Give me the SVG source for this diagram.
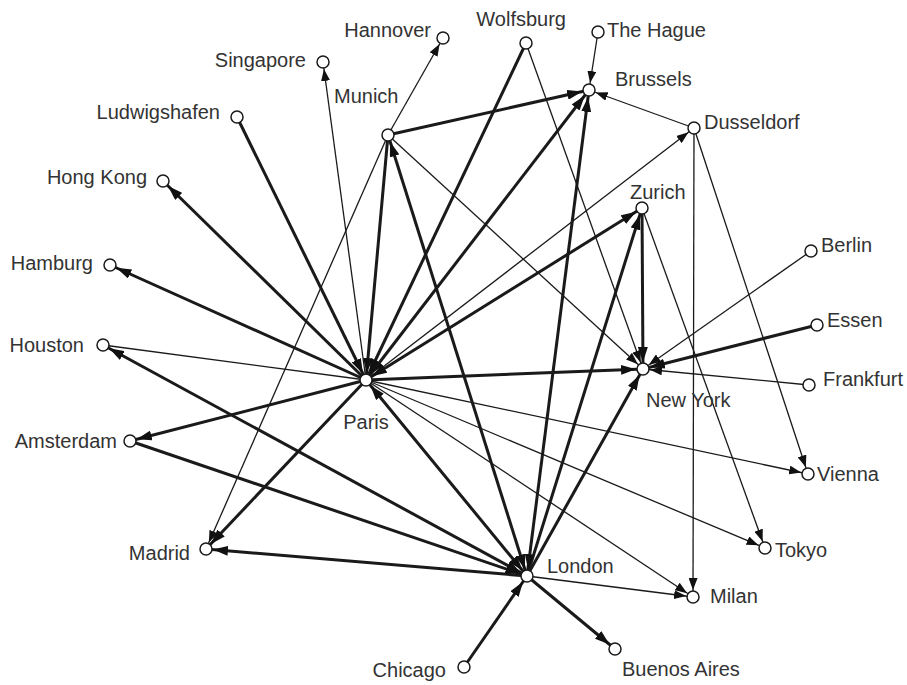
<svg xmlns="http://www.w3.org/2000/svg" width="907" height="685" viewBox="0 0 907 685">
<style>
.e{stroke:#1a1a1a;fill:none;stroke-linecap:butt}
.T{stroke-width:3}
.t{stroke-width:1.3}
.a1{marker-end:url(#hT)}
.a2{marker-end:url(#hT);marker-start:url(#hT)}
.b1{marker-end:url(#ht)}
.n circle{fill:#fff;stroke:#1a1a1a;stroke-width:1.5}
.n text{font-family:"Liberation Sans",Arial,sans-serif;font-size:20px;fill:#333}
.r{text-anchor:end}
.m{text-anchor:middle}
</style>
<defs>
<marker id="hT" viewBox="0 0 22 10" markerWidth="22" markerHeight="10" refX="22" refY="5" orient="auto-start-reverse" markerUnits="userSpaceOnUse"><path d="M0,0 L15,5 L0,10 z" fill="#111"/></marker>
<marker id="ht" viewBox="0 0 19 9" markerWidth="19" markerHeight="9" refX="19" refY="4.5" orient="auto" markerUnits="userSpaceOnUse"><path d="M0,0 L12,4.5 L0,9 z" fill="#111"/></marker>
</defs>
<g id="connectors">
<!-- thin -->
<line class="e t" x1="103" y1="345" x2="366" y2="380"/>
<line class="e t b1" x1="366" y1="380" x2="323" y2="62"/>
<line class="e t b1" x1="366" y1="380" x2="694" y2="128"/>
<line class="e t b1" x1="366" y1="380" x2="808" y2="474"/>
<line class="e t b1" x1="366" y1="380" x2="765" y2="548"/>
<line class="e t b1" x1="366" y1="380" x2="693" y2="597"/>
<line class="e t b1" x1="388" y1="135" x2="443" y2="38"/>
<line class="e t b1" x1="388" y1="135" x2="206" y2="549"/>
<line class="e t b1" x1="388" y1="135" x2="643" y2="369"/>
<line class="e t b1" x1="526" y1="43" x2="643" y2="369"/>
<line class="e t b1" x1="598" y1="32" x2="589" y2="90"/>
<line class="e t b1" x1="694" y1="128" x2="589" y2="90"/>
<line class="e t b1" x1="694" y1="128" x2="693" y2="597"/>
<line class="e t b1" x1="694" y1="128" x2="808" y2="474"/>
<line class="e t b1" x1="642" y1="208" x2="765" y2="548"/>
<line class="e t b1" x1="811" y1="251" x2="643" y2="369"/>
<line class="e t b1" x1="809" y1="385" x2="643" y2="369"/>
<line class="e t b1" x1="527" y1="576" x2="693" y2="597"/>
<!-- thick -->
<line class="e T a1" x1="366" y1="380" x2="163" y2="181"/>
<line class="e T a1" x1="366" y1="380" x2="110" y2="265"/>
<line class="e T a1" x1="366" y1="380" x2="130" y2="441"/>
<line class="e T a1" x1="366" y1="380" x2="206" y2="549"/>
<line class="e T a1" x1="366" y1="380" x2="643" y2="369"/>
<line class="e T a1" x1="237" y1="117" x2="366" y2="380"/>
<line class="e T a1" x1="388" y1="135" x2="366" y2="380"/>
<line class="e T a1" x1="526" y1="43" x2="366" y2="380"/>
<line class="e T a1" x1="388" y1="135" x2="589" y2="90"/>
<line class="e T a1" x1="817" y1="325" x2="643" y2="369"/>
<line class="e T a1" x1="642" y1="208" x2="643" y2="369"/>
<line class="e T a1" x1="527" y1="576" x2="642" y2="208"/>
<line class="e T a1" x1="527" y1="576" x2="643" y2="369"/>
<line class="e T a1" x1="527" y1="576" x2="206" y2="549"/>
<line class="e T a1" x1="527" y1="576" x2="615" y2="649"/>
<line class="e T a1" x1="464" y1="667" x2="527" y2="576"/>
<line class="e T a1" x1="130" y1="441" x2="527" y2="576"/>
<line class="e T a2" x1="366" y1="380" x2="589" y2="90"/>
<line class="e T a2" x1="366" y1="380" x2="642" y2="208"/>
<line class="e T a2" x1="527" y1="576" x2="366" y2="380"/>
<line class="e T a2" x1="527" y1="576" x2="388" y2="135"/>
<line class="e T a2" x1="527" y1="576" x2="103" y2="345"/>
<line class="e T a2" x1="527" y1="576" x2="589" y2="90"/>
</g>
<g id="node-paris" class="n"><circle cx="366" cy="380" r="6"/><text class="m" x="366" y="429">Paris</text></g>
<g id="node-london" class="n"><circle cx="527" cy="576" r="6"/><text x="547" y="573">London</text></g>
<g id="node-newyork" class="n"><circle cx="643" cy="369" r="6"/><text x="646" y="407">New York</text></g>
<g id="node-munich" class="n"><circle cx="388" cy="135" r="6"/><text x="334" y="103">Munich</text></g>
<g id="node-brussels" class="n"><circle cx="589" cy="90" r="6"/><text x="615" y="86">Brussels</text></g>
<g id="node-dusseldorf" class="n"><circle cx="694" cy="128" r="6"/><text x="704" y="129">Dusseldorf</text></g>
<g id="node-zurich" class="n"><circle cx="642" cy="208" r="6"/><text x="630" y="199">Zurich</text></g>
<g id="node-wolfsburg" class="n"><circle cx="526" cy="43" r="6"/><text class="r" x="566" y="26">Wolfsburg</text></g>
<g id="node-thehague" class="n"><circle cx="598" cy="32" r="6"/><text x="607" y="37">The Hague</text></g>
<g id="node-hannover" class="n"><circle cx="443" cy="38" r="6"/><text class="r" x="431" y="37">Hannover</text></g>
<g id="node-singapore" class="n"><circle cx="323" cy="62" r="6"/><text class="r" x="306" y="67">Singapore</text></g>
<g id="node-ludwigshafen" class="n"><circle cx="237" cy="117" r="6"/><text class="r" x="220" y="119">Ludwigshafen</text></g>
<g id="node-hongkong" class="n"><circle cx="163" cy="181" r="6"/><text class="r" x="147" y="184">Hong Kong</text></g>
<g id="node-hamburg" class="n"><circle cx="110" cy="265" r="6"/><text class="r" x="93" y="270">Hamburg</text></g>
<g id="node-houston" class="n"><circle cx="103" cy="345" r="6"/><text class="r" x="84" y="352">Houston</text></g>
<g id="node-amsterdam" class="n"><circle cx="130" cy="441" r="6"/><text class="r" x="117" y="448">Amsterdam</text></g>
<g id="node-madrid" class="n"><circle cx="206" cy="549" r="6"/><text class="r" x="190" y="560">Madrid</text></g>
<g id="node-chicago" class="n"><circle cx="464" cy="667" r="6"/><text class="r" x="446" y="677">Chicago</text></g>
<g id="node-buenosaires" class="n"><circle cx="615" cy="649" r="6"/><text x="622" y="676">Buenos Aires</text></g>
<g id="node-milan" class="n"><circle cx="693" cy="597" r="6"/><text x="710" y="603">Milan</text></g>
<g id="node-tokyo" class="n"><circle cx="765" cy="548" r="6"/><text x="775" y="557">Tokyo</text></g>
<g id="node-vienna" class="n"><circle cx="808" cy="474" r="6"/><text x="817" y="481">Vienna</text></g>
<g id="node-frankfurt" class="n"><circle cx="809" cy="385" r="6"/><text x="823" y="386">Frankfurt</text></g>
<g id="node-essen" class="n"><circle cx="817" cy="325" r="6"/><text x="827" y="327">Essen</text></g>
<g id="node-berlin" class="n"><circle cx="811" cy="251" r="6"/><text x="821" y="252">Berlin</text></g>
</svg>
